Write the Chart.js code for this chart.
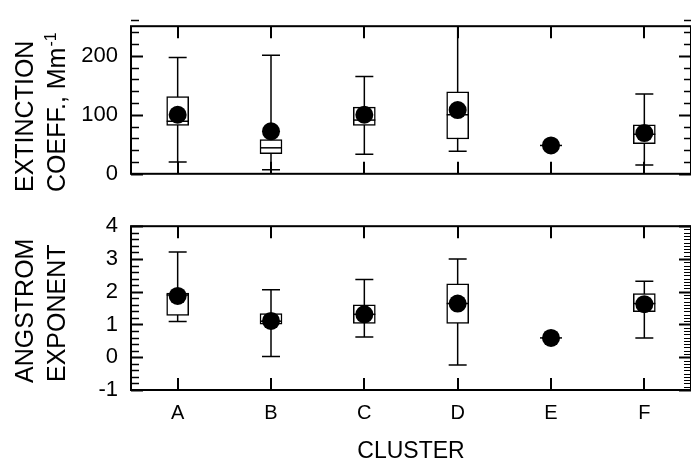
<!DOCTYPE html>
<html>
<head>
<meta charset="utf-8">
<script src="https://cdn.jsdelivr.net/npm/chart.js@4.4.1/dist/chart.umd.min.js"></script>
<style>
    html, body { margin: 0; padding: 0; background: #fff; overflow: hidden; }
    #wrap { position: relative; width: 691px; height: 466px; overflow: hidden; }
    canvas { position: absolute; left: 0; }
    #ext_chart { top: 0; }
    #ang_chart { top: 200px; }
</style>
</head>
<body>
<div id="wrap">
    <canvas id="ext_chart" width="700" height="200"></canvas>
    <canvas id="ang_chart" width="700" height="266"></canvas>
</div>
<script>
'use strict';

var clusters = ['A', 'B', 'C', 'D', 'E', 'F'];

// extinction coeff., Mm-1
var extMean = [100, 72, 100, 108, 48, 69];
var extLow  = [20, 7, 33, 38, 48, 15];
var extQ1   = [82, 34, 82, 59, 48, 51];
var extMed  = [89, 44, 91, 100, 48, 67];
var extQ3   = [131, 58, 113, 139, 48, 83];
var extHigh = [197, 201, 165, 262, 48, 135];
var extTicks = [0, 100, 200];

// angstrom exponent
var angMean = [1.87, 1.11, 1.31, 1.64, 0.59, 1.62];
var angLow  = [1.09, 0.02, 0.62, -0.24, 0.59, 0.59];
var angQ1   = [1.28, 1.01, 1.03, 1.03, 0.59, 1.39];
var angMed  = [1.90, 1.10, 1.31, 1.64, 0.59, 1.64];
var angQ3   = [1.96, 1.33, 1.60, 2.24, 0.59, 1.94];
var angHigh = [3.21, 2.06, 2.37, 3.00, 0.59, 2.32];
var angTicks = [-1, 0, 1, 2, 3, 4];

var FONT = '"Liberation Sans", Arial, Helvetica, sans-serif';
Chart.defaults.font.family = FONT;
Chart.defaults.color = '#000';

function vText(ctx, text, baseX, startY, sup) {
    ctx.save();
    ctx.translate(baseX, startY);
    ctx.rotate(-Math.PI / 2);
    ctx.fillStyle = '#000';
    ctx.font = '25px ' + FONT;
    ctx.textAlign = 'left';
    ctx.textBaseline = 'alphabetic';
    ctx.fillText(text, 0, 0);
    if (sup) {
        var w = ctx.measureText(text).width;
        ctx.font = '16px ' + FONT;
        ctx.fillText(sup, w + 1, -9);
    }
    ctx.restore();
}

function tickMarks(ctx, yScale, area, min, max, step, major, len, majorLen, side, thin) {
    var n = Math.round((max - min) / step);
    for (var k = 0; k <= n; k++) {
        var v = min + k * step;
        var isMajor = Math.abs(v / major - Math.round(v / major)) < 1e-6;
        var y = Math.round(yScale.getPixelForValue(v)) + 0.5;
        var l = isMajor ? majorLen : len;
        ctx.lineWidth = isMajor ? 2 : thin;
        ctx.beginPath();
        if (side === 'left') {
            ctx.moveTo(area.left, y);
            ctx.lineTo(area.left + l, y);
        } else {
            ctx.moveTo(area.right, y);
            ctx.lineTo(area.right - l, y);
        }
        ctx.stroke();
    }
}

function makeChart(id, cfg) {
    var canvas = document.getElementById(id);

    var boxPlot = {
        id: 'boxPlot',
        beforeDatasetsDraw: function (chart) {
            var ctx = chart.ctx, x = chart.scales.x, y = chart.scales.y, a = chart.chartArea;
            ctx.save();
            ctx.beginPath();
            ctx.rect(a.left, a.top, a.right - a.left, a.bottom - a.top);
            ctx.clip();
            ctx.strokeStyle = '#000';
            ctx.lineWidth = 1.5;
            for (var i = 0; i < clusters.length; i++) {
                var px = x.getPixelForValue(i);
                var yl = y.getPixelForValue(cfg.low[i]);
                var yh = y.getPixelForValue(cfg.high[i]);
                ctx.beginPath();
                ctx.moveTo(px, yl);
                ctx.lineTo(px, yh);
                ctx.moveTo(px - 9, yl);
                ctx.lineTo(px + 9, yl);
                ctx.moveTo(px - 9, yh);
                ctx.lineTo(px + 9, yh);
                ctx.stroke();
            }
            ctx.restore();
        },
        afterDatasetDraw: function (chart, args) {
            if (args.meta.type !== 'bar') return;
            var ctx = chart.ctx, x = chart.scales.x, y = chart.scales.y;
            ctx.save();
            ctx.strokeStyle = '#000';
            ctx.lineWidth = 1.5;
            for (var i = 0; i < clusters.length; i++) {
                var px = x.getPixelForValue(i);
                var py = y.getPixelForValue(cfg.med[i]);
                ctx.beginPath();
                ctx.moveTo(px - 11, py);
                ctx.lineTo(px + 11, py);
                ctx.stroke();
            }
            ctx.restore();
        },
        afterDraw: function (chart) {
            var ctx = chart.ctx, x = chart.scales.x, y = chart.scales.y, a = chart.chartArea;
            ctx.save();
            ctx.strokeStyle = '#000';
            // category ticks, top and bottom
            ctx.lineWidth = 2;
            for (var i = 0; i < clusters.length; i++) {
                var px = Math.round(x.getPixelForValue(i));
                ctx.beginPath();
                ctx.moveTo(px, a.bottom);
                ctx.lineTo(px, a.bottom - 12);
                ctx.moveTo(px, a.top);
                ctx.lineTo(px, a.top + 12);
                ctx.stroke();
            }
            tickMarks(ctx, y, a, cfg.min, cfg.max, cfg.leftStep, cfg.major, 8, 12, 'left', 1.5);
            tickMarks(ctx, y, a, cfg.min, cfg.max, cfg.rightStep, cfg.major, 7, 12, 'right', cfg.rightThin);
            ctx.lineWidth = 2;
            ctx.strokeRect(a.left, a.top, a.right - a.left, a.bottom - a.top);
            ctx.restore();
            cfg.titles(ctx, a);
        }
    };

    return new Chart(canvas, {
        type: 'bar',
        data: {
            labels: clusters,
            datasets: [
                {
                    type: 'line',
                    data: cfg.mean,
                    showLine: false,
                    pointRadius: 9,
                    pointBackgroundColor: '#000',
                    pointBorderWidth: 0,
                    order: 0
                },
                {
                    type: 'bar',
                    data: cfg.q1.map(function (v, i) { return [v, cfg.q3[i]]; }),
                    backgroundColor: '#fff',
                    borderColor: '#000',
                    borderWidth: 1.5,
                    borderSkipped: false,
                    barThickness: 22,
                    order: 1
                }
            ]
        },
        options: {
            responsive: false,
            animation: false,
            layout: { padding: cfg.padding },
            plugins: { legend: { display: false }, tooltip: { enabled: false } },
            scales: {
                x: {
                    type: 'category',
                    offset: true,
                    grid: { display: false, drawTicks: false },
                    border: { display: false },
                    ticks: { display: cfg.showX, padding: 11, font: { size: 20 }, color: '#000' },
                    afterFit: function (s) { s.height = cfg.xHeight; }
                },
                y: {
                    min: cfg.min,
                    max: cfg.max,
                    grid: { display: false, drawTicks: false },
                    border: { display: false },
                    ticks: { padding: 13, font: { size: 22 }, color: '#000' },
                    afterBuildTicks: function (s) {
                        s.ticks = cfg.ticks.map(function (v) { return { value: v }; });
                    },
                    afterFit: function (s) { s.width = 131; }
                }
            }
        },
        plugins: [boxPlot]
    });
}

makeChart('ext_chart', {
    mean: extMean, low: extLow, q1: extQ1, med: extMed, q3: extQ3, high: extHigh,
    ticks: extTicks, min: 0, max: 250, major: 100, leftStep: 20, rightStep: 20, rightThin: 1.5,
    padding: { top: 16, right: 5, bottom: 0, left: 0 },
    xHeight: 17, showX: false,
    titles: function (ctx, a) {
        vText(ctx, 'EXTINCTION', 33, 192);
        vText(ctx, 'COEFF., Mm', 65, 192, '-1');
    }
});

makeChart('ang_chart', {
    mean: angMean, low: angLow, q1: angQ1, med: angMed, q3: angQ3, high: angHigh,
    ticks: angTicks, min: -1, max: 4, major: 1, leftStep: 0.2, rightStep: 0.1, rightThin: 1,
    padding: { top: 23, right: 5, bottom: 0, left: 0 },
    xHeight: 76, showX: true,
    titles: function (ctx, a) {
        vText(ctx, 'ANGSTROM', 33, 183);
        vText(ctx, 'EXPONENT', 65, 182);
        ctx.save();
        ctx.fillStyle = '#000';
        ctx.font = '23px ' + FONT;
        ctx.textAlign = 'center';
        ctx.textBaseline = 'middle';
        ctx.fillText('CLUSTER', (a.left + a.right) / 2, 252);
        ctx.restore();
    }
});
</script>
</body>
</html>
